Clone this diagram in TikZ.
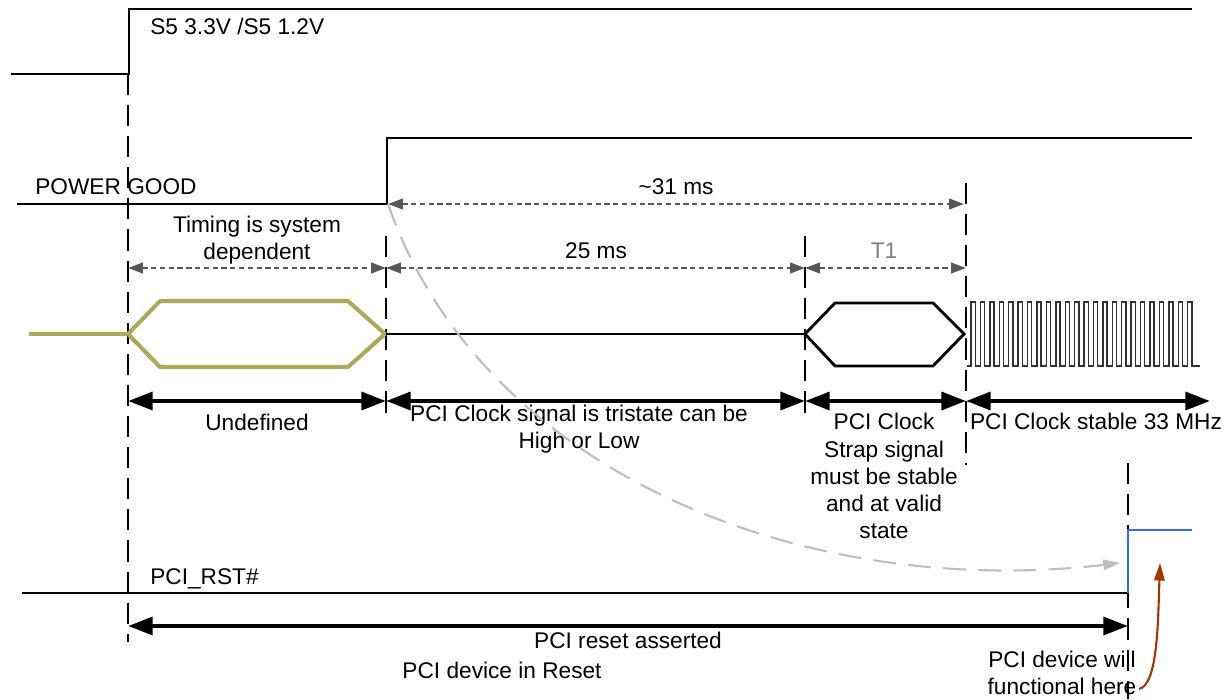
\documentclass[tikz,border=0pt]{standalone}
\usepackage{fontspec}
\setmainfont{Liberation Sans}
\usetikzlibrary{arrows.meta}
\definecolor{undefcol}{RGB}{170,170,90}
\definecolor{rstblue}{RGB}{51,102,255}
\definecolor{notebrown}{RGB}{160,56,0}
\definecolor{dimgray}{RGB}{88,88,88}
\definecolor{curvegray}{RGB}{190,190,190}

\begin{document}
\begin{tikzpicture}[
    x=0.02cm, y=-0.02cm,
    sig/.style={line width=1.2pt, line join=miter},
    clk/.style={line width=0.8pt, black!80},
    tick/.style={line width=1.2pt, dash pattern=on 12pt off 5.7pt},
    dimarr/.style={{Triangle[length=8.5pt,width=6pt]}-{Triangle[length=8.5pt,width=6pt]},
                   line width=1.4pt, dash pattern=on 3pt off 2pt, dimgray},
    spanarr/.style={{Triangle[length=14pt,width=10pt]}-{Triangle[length=14pt,width=10pt]},
                    line width=2.6pt},
    lbl/.style={font=\fontsize{12.9}{15.4}\selectfont, inner sep=0pt, align=center},
  ]
    \useasboundingbox (0,0) rectangle (1229,699);

    % === time instants ===
    \foreach \n/\x in {0/128, 1/386, 2/805, 3/966}{
      \coordinate (dim\n) at (\x,268);
      \coordinate (span\n) at (\x,401);
    }
    \coordinate (span4) at (1210,401);
    \coordinate (pgrise) at (388,204);
    \coordinate (clkon) at (964,204);
    \coordinate (rst0) at (128,626);
    \coordinate (rst1) at (1128,626);
    \coordinate (rstrise) at (1120,563);
    \coordinate (herefoot) at (1139,689);
    \coordinate (hereup) at (1160,563);

    % === dashed time marks ===
    \draw[tick] (128,74) -- (128,642);
    \draw[tick] (386,236) -- (386,420);
    \draw[tick] (805,236) -- (805,420);
    \draw[tick] (966,183) -- (966,465);
    \draw[tick] (1128,463) -- (1128,699);

    % === S5 rail and POWER GOOD ===
    \draw[sig] (11,74) -- (129,74) -- (129,9) -- (1192,9);
    \node[lbl, anchor=west] (s5) at (150,26) {S5 3.3V /S5 1.2V};
    \draw[sig] (17,204) -- (387,204) -- (387,138) -- (1192,138);
    \node[lbl, anchor=west] (pg) at (35,187) {POWER GOOD};

    % === PCI clock ===
    \draw[undefcol, line width=2.3pt] (29,334) -- (128,334);
    \draw[undefcol, line width=2.3pt, line join=round]
      (128,334) -- (160,301) -- (348,301) -- (385,334) -- (348,367) -- (160,367) -- cycle;
    \draw[sig] (386,334) -- (805,334);
    \draw[line width=1.6pt]
      (805,334) -- (835,303) -- (933,303) -- (964,334) -- (933,366) -- (835,366) -- cycle;
    \draw[clk] (967,366) -- (971,366)
      \foreach \i in {1,...,24}{ -- ++(0,-64) -- ++(4.2,0) -- ++(0,64) -- ++(5.22,0) }
      -- ++(3,0);

    % === PCI_RST# ===
    \draw[sig] (22,593) -- (1128,593);
    \draw[rstblue, line width=1.2pt] (1128,593) -- (1128,530) -- (1192,530);
    \node[lbl, anchor=west] (rstname) at (150,579) {PCI\_RST\#};

    % === dotted timing arrows ===
    \draw[dimarr] (pgrise) -- (clkon);
    \node[lbl] (t31) at (676,187) {\textasciitilde31 ms};
    \draw[dimarr] (dim0) -- (dim1);
    \node[lbl] (tsys) at (257,240) {Timing is system\\dependent};
    \draw[dimarr] (dim1) -- (dim2);
    \node[lbl] (t25) at (596,251) {25 ms};
    \draw[dimarr] (dim2) -- (dim3);
    \node[lbl, text=gray] (tone) at (884,251) {T1};

    % === phase arrows ===
    \draw[spanarr] (span0) -- (span1);
    \node[lbl] (undef) at (257,422) {Undefined};
    \draw[spanarr] (span1) -- (span2);
    \node[lbl] (tristate) at (579,429) {PCI Clock signal is tristate can be\\High or Low};
    \draw[spanarr] (span2) -- (span3);
    \node[lbl] (strap) at (884,476)
      {PCI Clock\\Strap signal\\must be stable\\and at valid\\state};
    \draw[spanarr] (span3) -- (span4);
    \node[lbl] (stable) at (1096,421) {PCI Clock stable 33 MHz};

    % === reset span ===
    \draw[spanarr] (rst0) -- (rst1);
    \node[lbl] (asserted) at (628,640) {PCI reset asserted};
    \node[lbl] (inreset) at (502,670) {PCI device in Reset};
    \node[lbl] (func) at (1062,673) {PCI device will\\functional here};

    % === cause and note curves ===
    \draw[curvegray, line width=1.2pt, dash pattern=on 13pt off 7pt,
          -{Triangle[length=9.5pt,width=6pt]}]
      (pgrise) .. controls (480,470) and (800,600) .. (rstrise);
    \draw[notebrown, line width=1.2pt, -{Triangle[length=10pt,width=6pt]}]
      (herefoot) .. controls (1158,685) and (1158,620) .. (hereup);
  \end{tikzpicture}
\end{document}
